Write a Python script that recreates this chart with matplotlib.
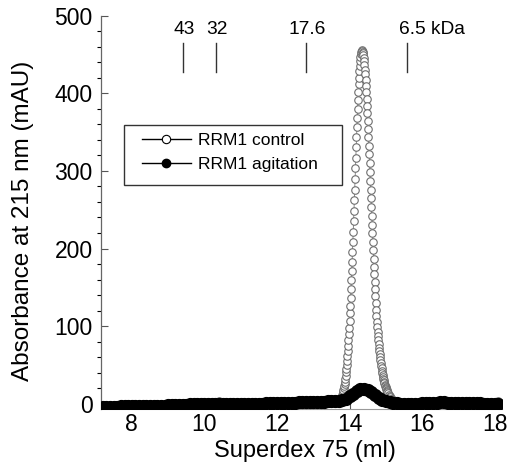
#!/usr/bin/env python3
"""Size-exclusion trace of RRM1, control vs agitation (Superdex 75)."""
import matplotlib

matplotlib.use("Agg")
import matplotlib.pyplot as plt  # noqa: E402
import numpy as np  # noqa: E402
from matplotlib.patches import Rectangle  # noqa: E402

plt.rcParams["font.family"] = ["Liberation Sans", "DejaVu Sans"]

# --- control trace (open circles) -------------------------------------
# baseline before the peak, every 0.2 ml from 7.2 to 13.6
ctrl_base_x = np.round(np.arange(7.2, 13.61, 0.2), 2)
ctrl_base_y = [
    -3.0, -2.8, -2.6, -2.4, -2.2, -2.0, -1.6, -1.2, -0.8, -0.2,
    0.4, 1.0, 1.5, 2.0, 2.5, 3.0, 3.5, 3.0, 2.2, 1.5,
    1.0, 0.8, 0.8, 1.0, 1.3, 1.6, 2.0, 2.4, 2.8, 3.0,
    2.8, 2.2, 1.8,
]
# peak, every 0.01 ml from 13.70 to 15.04
ctrl_peak_x = np.round(np.arange(13.70, 15.045, 0.01), 2)
ctrl_peak_y = [
    2.7, 3.2, 3.7, 4.4, 5.1, 5.9, 6.8, 7.8, 9.0, 10.4,
    11.9, 13.6, 15.5, 17.6, 20.0, 22.6, 25.5, 28.8, 32.3, 36.2,
    40.5, 45.1, 50.2, 55.7, 61.6, 68.0, 74.8, 82.2, 90.0, 98.4,
    107.3, 116.6, 126.5, 136.9, 147.7, 159.0, 170.8, 182.9, 195.5, 208.3,
    221.5, 234.9, 248.5, 262.2, 276.0, 289.8, 303.5, 317.0, 330.4, 343.4,
    356.1, 368.4, 380.1, 391.1, 401.5, 411.2, 420.0, 428.0, 435.0, 441.0,
    446.0, 449.9, 452.7, 454.4, 455.0, 454.6, 453.4, 451.5, 448.7, 445.2,
    441.0, 436.1, 430.4, 424.1, 417.2, 409.6, 401.5, 392.9, 383.8, 374.3,
    364.3, 354.0, 343.4, 332.6, 321.6, 310.4, 299.0, 287.5, 276.0, 264.5,
    253.1, 241.7, 230.5, 219.4, 208.4, 197.7, 187.1, 176.8, 166.7, 157.1,
    147.7, 138.6, 129.9, 121.5, 113.4, 106.0, 99.0, 93.0, 87.0, 82.0,
    77.0, 72.0, 68.0, 64.0, 60.0, 56.0, 52.5, 49.0, 46.0, 43.0,
    40.0, 37.5, 35.0, 32.5, 30.5, 28.5, 26.5, 25.0, 23.5, 22.0,
    20.5, 19.0, 17.5, 16.5, 15.5,
]
# tail, every 0.02 ml from 15.06 to 15.40
ctrl_tail_x = np.round(np.arange(15.06, 15.405, 0.02), 2)
ctrl_tail_y = [
    13.5, 11.5, 10.0, 8.5, 7.0, 6.0, 5.0, 4.0, 3.3, 2.7,
    2.2, 1.8, 1.4, 1.1, 0.9, 0.7, 0.5, 0.4,
]
# baseline after the peak, every 0.1 ml from 15.5 to 18.1
ctrl_end_x = np.round(np.arange(15.5, 18.15, 0.1), 2)
ctrl_end_y = [
    0.3, 0.4, 0.6, 0.8, 1.0, 1.2, 1.5, 1.8, 2.2, 2.5,
    2.8, 3.0, 3.0, 2.8, 2.5, 2.2, 2.0, 1.8, 1.8, 2.0,
    2.2, 2.4, 2.5, 2.6, 2.8, 3.0, 3.2,
]

# --- agitation trace (filled circles), every 0.1 ml from 7.2 to 18.1 ---
agit_x = np.round(np.arange(7.2, 18.15, 0.1), 2)
agit_y = [
    -3.5, -3.5, -3.4, -3.3, -3.3, -3.2, -3.1, -3.0, -3.0, -2.9,
    -2.8, -2.7, -2.6, -2.5, -2.4, -2.3, -2.2, -2.0, -1.9, -1.8,
    -1.5, -1.2, -1.0, -0.8, -0.6, -0.5, -0.4, -0.3, -0.2, -0.1,
    0.0, 0.1, 0.0, -0.2, -0.3, -0.4, -0.5, -0.5, -0.4, -0.3,
    -0.2, -0.1, 0.0, 0.2, 0.4, 0.6, 0.7, 0.8, 0.9, 1.0,
    1.1, 1.3, 1.5, 1.7, 1.9, 2.0, 2.1, 2.3, 2.5, 2.7,
    2.9, 3.1, 3.3, 3.5, 3.8, 4.3, 5.2, 7.0, 9.8, 13.2,
    16.5, 18.8, 19.5, 18.5, 15.8, 12.0, 8.2, 5.2, 3.2, 2.0,
    1.3, 0.8, 0.5, 0.3, 0.2, 0.2, 0.3, 0.5, 0.7, 0.9,
    1.2, 1.5, 1.8, 2.0, 2.0, 1.8, 1.5, 1.2, 0.9, 0.7,
    0.6, 0.7, 0.9, 1.0, 0.8, 0.5, 0.3, 0.2, 0.3, 0.5,
]

# molecular weight standards
std_labels = ["43", "32", "17.6", "6.5"]
std_volumes = [9.40, 10.31, 12.79, 15.58]

ctrl_x = np.concatenate([ctrl_base_x, ctrl_peak_x, ctrl_tail_x, ctrl_end_x])
ctrl_y = np.concatenate([ctrl_base_y, ctrl_peak_y, ctrl_tail_y, ctrl_end_y])

fig = plt.figure(figsize=(5.14, 4.72), dpi=100)
ax = fig.add_axes([101 / 514, 63 / 472, 401 / 514, 393.5 / 472])

ax.plot(ctrl_x, ctrl_y, color="#777777", lw=0.6, marker="o", ms=5.4,
        mfc="white", mec="#6e6e6e", mew=0.8, zorder=2)
ax.plot(agit_x, agit_y, color="black", lw=1, marker="o", ms=8.5,
        mfc="black", mec="black", zorder=3)

# standards markers
for label, vol in zip(std_labels, std_volumes):
    ax.plot([vol, vol], [427, 465], color="#333333", lw=1)
    if label == "6.5":
        ax.text(vol - 0.23, 476, "6.5 kDa", ha="left", va="baseline", fontsize=13.8)
    else:
        ax.text(vol + 0.04, 476, label, ha="center", va="baseline", fontsize=13.8)

ax.set_xlim(7.15, 18.2)
ax.set_ylim(-6.5, 500)
ax.set_xticks([8, 10, 12, 14, 16, 18])
ax.set_yticks([0, 100, 200, 300, 400, 500])
ax.set_yticks(np.arange(0, 501, 20), minor=True)
ax.tick_params(axis="both", direction="in", labelsize=16.5, colors="#555555",
               labelcolor="black")
ax.tick_params(axis="y", which="major", length=5, width=0.8, pad=6)
ax.tick_params(axis="y", which="minor", length=3, width=0.8)
ax.tick_params(axis="x", which="major", length=5, width=0.8, pad=3)

for side in ("top", "right"):
    ax.spines[side].set_visible(False)
ax.spines["left"].set_color("#666666")
ax.spines["left"].set_linewidth(0.9)
ax.spines["bottom"].set_color("#999999")
ax.spines["bottom"].set_linewidth(0.8)

ax.set_xlabel("Superdex 75 (ml)", fontsize=17)
ax.set_ylabel("Absorbance at 215 nm (mAU)", fontsize=17.5)
ax.xaxis.set_label_coords(0.509, -0.078)
ax.yaxis.set_label_coords(-0.168, 0.478)

leg = ax.legend(
    ["RRM1 control", "RRM1 agitation"],
    loc="upper left",
    bbox_to_anchor=(142 / 514, 1 - 133 / 472),
    bbox_transform=fig.transFigure,
    frameon=False,
    fontsize=12.5,
    borderpad=0,
    borderaxespad=0,
    handlelength=2.8,
    handletextpad=0.45,
    labelspacing=0.5,
)
for handle in leg.legend_handles:
    handle.set_color("black")
    handle.set_linewidth(1)
    handle.set_markersize(6)
leg.legend_handles[0].set_markerfacecolor("white")
leg.legend_handles[0].set_markeredgecolor("black")
leg.legend_handles[0].set_markeredgewidth(0.8)

fig.patches.append(Rectangle((124 / 514, 1 - 185 / 472), 218 / 514, 60 / 472,
                             transform=fig.transFigure, fill=False,
                             edgecolor="#333333", lw=1))

fig.savefig("out.png", dpi=100)
